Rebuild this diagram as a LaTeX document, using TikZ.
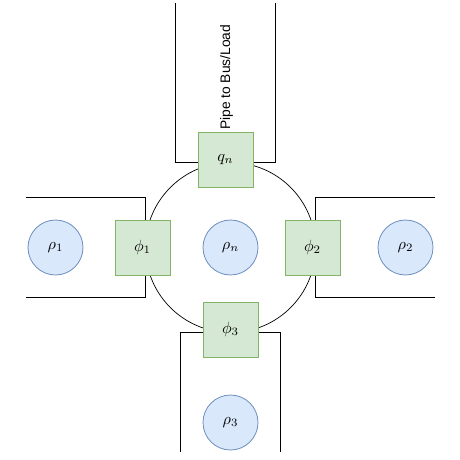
\documentclass[tikz,border=0pt]{standalone}
\usepackage{fontspec}
\setmainfont{Liberation Sans}
\definecolor{gfill}{HTML}{D5E8D4}
\definecolor{gline}{HTML}{82B366}
\definecolor{bfill}{HTML}{DAE8FC}
\definecolor{bline}{HTML}{6C8EBF}
\tikzset{
  valve/.style={draw=gline,fill=gfill,line width=0.8pt,minimum size=55pt,inner sep=0pt,outer sep=0pt},
  store/.style={circle,draw=bline,fill=bfill,line width=0.8pt,minimum size=55pt,inner sep=0pt,outer sep=0pt},
  junction/.style={circle,draw=black,line width=0.7pt,minimum size=170pt,inner sep=0pt},
  pipe/.style={draw=black,line width=1pt,line join=miter},
  caption/.style={rotate=90,font=\fontsize{13.8}{16}\selectfont,inner sep=0pt}
}
\newcommand{\mlabel}[1]{\scalebox{1.62}{$#1$}}
\begin{document}
\begin{tikzpicture}[x=1pt,y=-1pt]
\useasboundingbox (0,0) rectangle (460,460);
\node[junction] (J) at (230.5,247.5) {};
% free ends and corners of the pipes
\coordinate (T1) at (175.5,3);  \coordinate (T1c) at (175.5,162);
\coordinate (T2) at (275.5,3);  \coordinate (T2c) at (275.5,162);
\coordinate (L1) at (26,197.5); \coordinate (L1c) at (145.5,197.5);
\coordinate (L2) at (26,297.5); \coordinate (L2c) at (145.5,297.5);
\coordinate (R1) at (435,197.5);\coordinate (R1c) at (315.5,197.5);
\coordinate (R2) at (435,297.5);\coordinate (R2c) at (315.5,297.5);
\coordinate (B1) at (180.5,452);\coordinate (B1c) at (180.5,332.5);
\coordinate (B2) at (280.5,452);\coordinate (B2c) at (280.5,332.5);
\draw[pipe] (T1) -- (T1c) -- (200,162);
\draw[pipe] (T2) -- (T2c) -- (250,162);
\draw[pipe] (L1) -- (L1c) -- (145.5,225);
\draw[pipe] (L2) -- (L2c) -- (145.5,270);
\draw[pipe] (R1) -- (R1c) -- (315.5,225);
\draw[pipe] (R2) -- (R2c) -- (315.5,270);
\draw[pipe] (B1) -- (B1c) -- (206,332.5);
\draw[pipe] (B2) -- (B2c) -- (255,332.5);
\node[valve] (q) at (225.5,159.5) {\mlabel{q_n}};
\node[valve] (p1) at (142.5,247.5) {\mlabel{\phi_1}};
\node[valve] (p2) at (312.5,247.5) {\mlabel{\phi_2}};
\node[valve] (p3) at (230.5,329.5) {\mlabel{\phi_3}};
\node[store] (r1) at (55.5,247.5) {\mlabel{\rho_1}};
\node[store] (rn) at (230.5,247.5) {\mlabel{\rho_n}};
\node[store] (r2) at (405.5,247.5) {\mlabel{\rho_2}};
\node[store] (r3) at (230.5,422.5) {\mlabel{\rho_3}};
\node[caption,anchor=west] (lab) at (226.5,130) {Pipe to Bus/Load};
\end{tikzpicture}
\end{document}
